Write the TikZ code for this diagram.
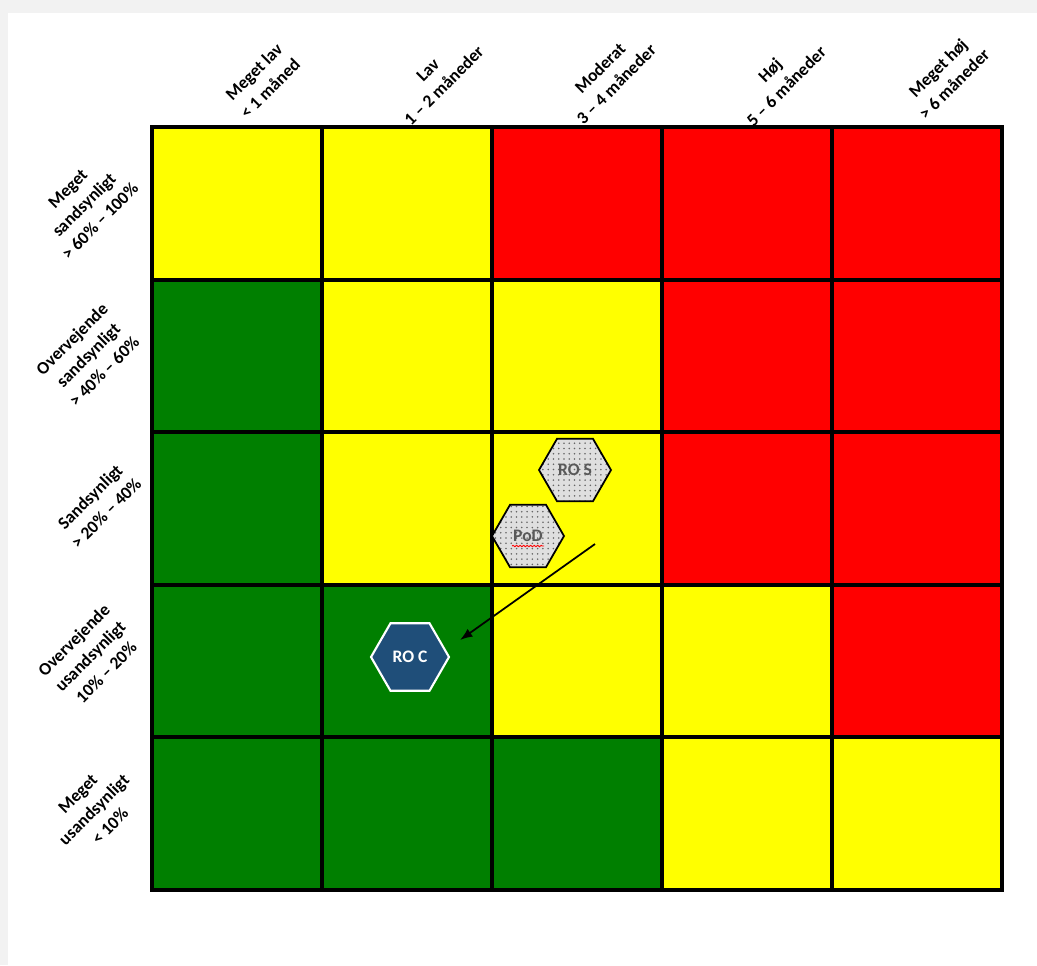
\documentclass[tikz,border=0pt]{standalone}
\usepackage{fontspec}
\setmainfont{Carlito}
\usepackage{xcolor}
\usepackage{tikz}
\usetikzlibrary{arrows.meta, positioning, shapes.geometric, patterns, decorations.pathmorphing}
\definecolor{riskred}{HTML}{FF0000}
\definecolor{riskyellow}{HTML}{FFFF00}
\definecolor{riskgreen}{HTML}{007F00}
\definecolor{frame}{HTML}{F2F2F2}
\definecolor{rocblue}{HTML}{1F4E79}
\definecolor{hexgray}{HTML}{595959}

\begin{document}
\begin{tikzpicture}[
        x=0.02cm, y=-0.02cm,
        font=\fontsize{10}{13}\selectfont\bfseries,
        cell/.style={draw=black, line width=2.3pt},
        collabel/.style={rotate=45, align=center, inner sep=0pt},
        rowlabel/.style={rotate=45, align=center, inner sep=0pt},
        hexgrey/.style={
            regular polygon,
            regular polygon sides=6,
            draw=black,
            line width=1pt,
            preaction={fill=gray!25},
            pattern=dots,
            pattern color=gray!80!black,
            minimum size=1.44cm,
            inner sep=0pt,
            text=hexgray,
            font=\fontsize{10}{10}\selectfont\bfseries
        },
        hexblue/.style={
            regular polygon,
            regular polygon sides=6,
            draw=white,
            line width=1.2pt,
            fill=rocblue,
            minimum size=1.56cm,
            inner sep=0pt,
            text=white,
            font=\fontsize{10}{10}\selectfont\bfseries
        },
        arrow/.style={-{Latex[length=2.5mm]}, line width=1pt, draw=black}
    ]
        \useasboundingbox (0,0) rectangle (1037,965);
        \fill[frame] (0,0) rectangle (1037,965);
        \fill[white] (8,13) rectangle (1037,965);

        \foreach \r/\colors in {0/{riskyellow,riskyellow,riskred,riskred,riskred},
                                1/{riskgreen,riskyellow,riskyellow,riskred,riskred},
                                2/{riskgreen,riskyellow,riskyellow,riskred,riskred},
                                3/{riskgreen,riskgreen,riskyellow,riskyellow,riskred},
                                4/{riskgreen,riskgreen,riskgreen,riskyellow,riskyellow}}{
            \foreach \c [count=\k from 0] in \colors{
                \draw[cell, fill=\c] (152+170*\k,127+152.6*\r) rectangle ++(170,152.6);
            }
        }

        \node[collabel] (lowest) at (262,80) {Meget lav\\< 1 måned};
        \node[collabel] (low) at (436,78) {Lav\\1 – 2 måneder};
        \node[collabel] (moderate) at (608,76) {Moderat\\3 – 4 måneder};
        \node[collabel] (high) at (778,78) {Høj\\5 – 6 måneder};
        \node[collabel] (highest) at (946,76) {Meget høj\\> 6 måneder};

        \node[rowlabel] (certain) at (84,205) {Meget\\sandsynligt\\> 60\% – 100\%};
        \node[rowlabel] (likely) at (88,355) {Overvejende\\sandsynligt\\> 40\% – 60\%};
        \node[rowlabel] (possible) at (98,505) {Sandsynligt\\> 20\% – 40\%};
        \node[rowlabel] (unlikely) at (90,656) {Overvejende\\usandsynligt\\10\% – 20\%};
        \node[rowlabel] (rare) at (94,810) {Meget\\usandsynligt\\< 10\%};

        \node[hexgrey] (ros) at (575,470) {RO S};
        \node[hexgrey] (pod) at (528,536) {PoD};
        \draw[red, line width=0.5pt, decorate, decoration={snake, amplitude=0.4pt, segment length=2pt}]
            ([xshift=-0.32cm, yshift=-0.2cm]pod.center) -- ([xshift=0.32cm, yshift=-0.2cm]pod.center);
        \node[hexblue] (roc) at (410,657) {RO C};

        \coordinate (shiftstart) at (595,544);
        \coordinate (shiftend) at (460,640);
        \draw[arrow] (shiftstart) -- (shiftend);
    \end{tikzpicture}
\end{document}
